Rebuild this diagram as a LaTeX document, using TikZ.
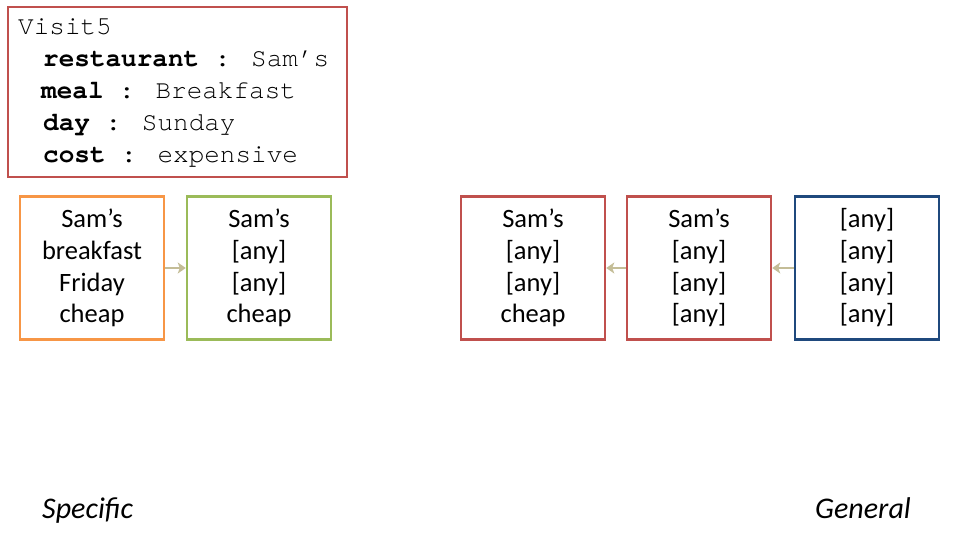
\documentclass[tikz,border=0pt]{standalone}
\usepackage{fontspec}
\setmainfont{Carlito}
\newfontfamily\monofnt{TeX Gyre Cursor}
\usetikzlibrary{arrows.meta}
\definecolor{redbox}{HTML}{C0504D}
\definecolor{orangebox}{HTML}{F79646}
\definecolor{greenbox}{HTML}{9BBB59}
\definecolor{bluebox}{HTML}{1F497D}
\definecolor{tanarrow}{HTML}{C4BD97}
\newcommand{\anyv}{{[}any{]}}
\tikzset{
  frame/.style={draw, line width=2.5pt, minimum width=144pt, minimum height=143pt, inner sep=0pt,
    align=center, font=\fontsize{26.5}{31.7}\selectfont},
  mono/.style={anchor=base west, inner sep=0pt, font=\monofnt\fontsize{26}{32}\selectfont},
  conn/.style={draw=tanarrow, line width=2.5pt, -{Stealth[length=8pt,width=11pt,inset=2pt]}},
  side/.style={anchor=base west, inner sep=0pt, font=\itshape\fontsize{30}{34}\selectfont},
}
\begin{document}
\begin{tikzpicture}[x=1pt,y=-1pt]
\useasboundingbox (0,0) rectangle (960,540);
\node[draw=redbox, line width=2.5pt, minimum width=339pt, minimum height=170pt, inner sep=0pt] (visit) at (177.5,92) {};
\node[mono] (v0) at (18,35) {Visit5};
\node[mono] (v1) at (43,67) {\textbf{restaurant} : Sam’s};
\node[mono] (v2) at (41,99) {\textbf{meal} : Breakfast};
\node[mono] (v3) at (43,131) {\textbf{day} : Sunday};
\node[mono] (v4) at (43,163) {\textbf{cost} : expensive};

\node[frame, draw=orangebox] (b1) at (92,268) {Sam’s\\breakfast\\Friday\\cheap};
\node[frame, draw=greenbox] (b2) at (259,268) {Sam’s\\\anyv\\\anyv\\cheap};
\node[frame, draw=redbox] (b3) at (533,268) {Sam’s\\\anyv\\\anyv\\cheap};
\node[frame, draw=redbox] (b4) at (699,268) {Sam’s\\\anyv\\\anyv\\\anyv};
\node[frame, draw=bluebox] (b5) at (867,268) {\anyv\\\anyv\\\anyv\\\anyv};

\draw[conn] (b1.east) -- (b2.west);
\draw[conn] (b4.west) -- (b3.east);
\draw[conn] (b5.west) -- (b4.east);

\node[side] (spec) at (42,518) {Specific};
\node[side] (gen) at (815,518) {General};
\end{tikzpicture}
\end{document}
